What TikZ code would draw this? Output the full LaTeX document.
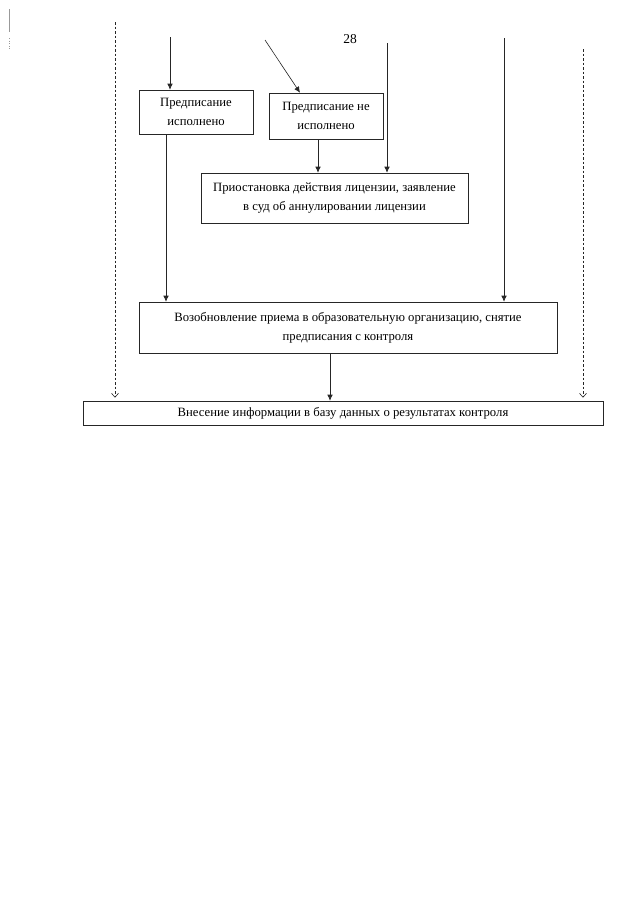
\documentclass[tikz,border=0pt]{standalone}
\usepackage{fontspec}
\setmainfont{Liberation Serif}
\usetikzlibrary{arrows.meta}
\begin{document}
\begin{tikzpicture}[x=1pt,y=-1pt,
  box/.style={draw=black!85,line width=0.6pt,rectangle,align=center,inner sep=0pt,
    font=\fontsize{12.7}{19}\selectfont},
  conn/.style={draw=black!85,line width=0.6pt,-{Latex[length=6pt,width=5.5pt]}},
  dconn/.style={draw=black!85,line width=0.6pt,dash pattern=on 2.5pt off 2pt,
    -{Straight Barb[length=4pt,width=7pt]},shorten >=3pt}]
\useasboundingbox[fill=white] (0,0) rectangle (640,905);
% scan mark
\draw[black!40,line width=0.6pt] (9,9) -- (9,32);
\draw[black!40,line width=0.6pt,dotted] (9,38) -- (9,49);
\node (pg) at (350,39) {\fontsize{13.5}{15}\selectfont 28};
% boxes
\node[box,minimum width=114pt,minimum height=44pt] (b1) at (196,112) {Предписание\\исполнено};
\node[box,minimum width=114pt,minimum height=46pt] (b2) at (326,116) {Предписание не\\исполнено};
\node[box,minimum width=267pt,minimum height=50pt] (b3) at (334.5,198) {Приостановка действия лицензии, заявление\\в суд об аннулировании лицензии};
\node[box,minimum width=418pt,minimum height=51pt] (b4) at (348,327.5) {Возобновление приема в образовательную организацию, снятие\\предписания с контроля};
\node[box,minimum width=520pt,minimum height=24pt] (b5) at (343,413) {Внесение информации в базу данных о результатах контроля};
% free ends
\coordinate (s1) at (170,37);
\coordinate (s2) at (265,40);
\coordinate (t2) at (300,0);
\coordinate (s3) at (387,43);
\coordinate (s4) at (504,38);
\coordinate (sl) at (115,22);
\coordinate (sr) at (583,49);
\coordinate (x23) at (318,0);
\coordinate (x14) at (166,0);
\coordinate (x45) at (330,0);
% connectors
\draw[conn] (s1) -- (s1 |- b1.north);
\draw[conn] (s2) -- (t2 |- b2.north);
\draw[conn] (s3) -- (s3 |- b3.north);
\draw[conn] (s4) -- (s4 |- b4.north);
\draw[conn] (x23 |- b2.south) -- (x23 |- b3.north);
\draw[conn] (x14 |- b1.south) -- (x14 |- b4.north);
\draw[conn] (x45 |- b4.south) -- (x45 |- b5.north);
\draw[dconn] (sl) -- (sl |- b5.north);
\draw[dconn] (sr) -- (sr |- b5.north);
\end{tikzpicture}
\end{document}
